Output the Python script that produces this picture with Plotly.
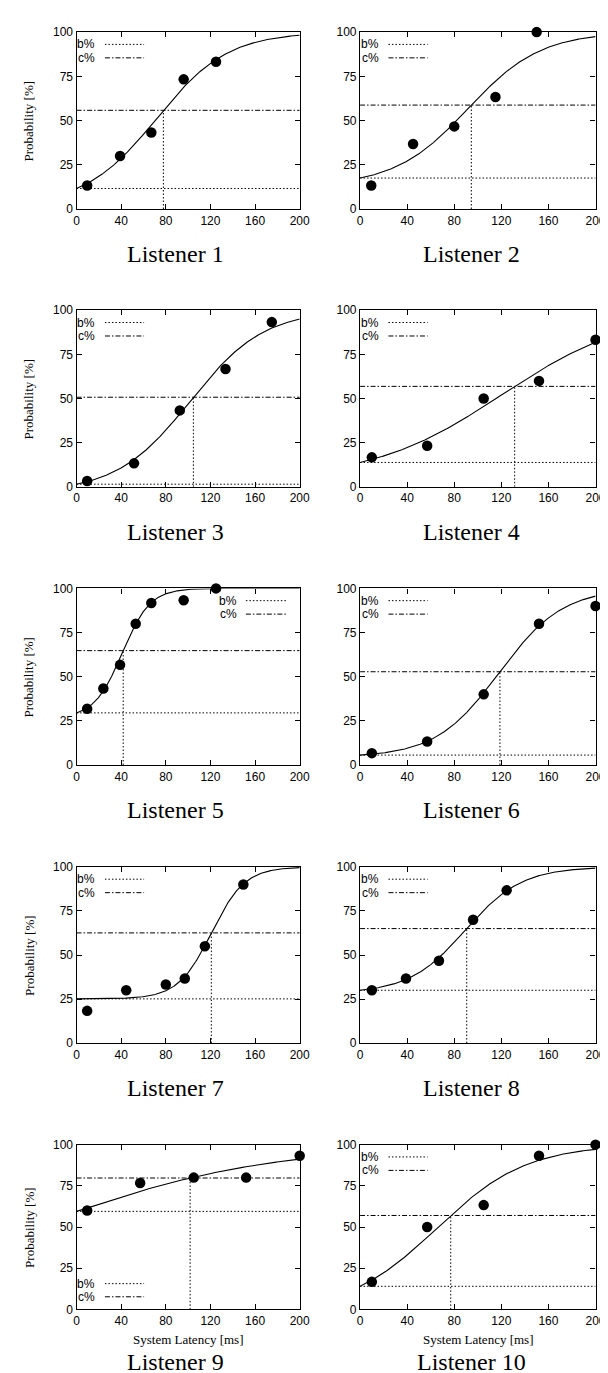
import numpy as np
import plotly.graph_objects as go

# ---------------- data ----------------
lat_L1 = [9.5, 39, 67, 96, 125]
prob_L1 = [13.3, 30.0, 43.3, 73.3, 83.3]
lat_L2 = [9.5, 45, 80, 115, 150]
prob_L2 = [13.3, 36.7, 46.7, 63.3, 100.0]
lat_L3 = [9.5, 51.5, 92.5, 133.5, 175]
prob_L3 = [3.3, 13.3, 43.3, 66.7, 93.3]
lat_L4 = [10, 57, 105, 152, 200]
prob_L4 = [16.7, 23.3, 50.0, 60.0, 83.3]
lat_L5 = [9.5, 24, 39, 53, 67, 96, 125]
prob_L5 = [31.8, 43.3, 56.7, 80.0, 91.7, 93.3, 100.0]
lat_L6 = [10, 57, 105, 152, 200]
prob_L6 = [6.7, 13.3, 40.0, 80.0, 90.0]
lat_L7 = [9.5, 44.5, 80, 97, 115, 149.5]
prob_L7 = [18.3, 30.0, 33.3, 36.7, 55.0, 90.0]
lat_L8 = [10, 39, 67, 96, 124.5]
prob_L8 = [30.0, 36.7, 46.7, 70.0, 86.7]
lat_L9 = [9.5, 57, 105, 152, 200]
prob_L9 = [60.0, 76.7, 80.0, 80.0, 93.3]
lat_L10 = [10, 57, 105, 152, 200]
prob_L10 = [16.7, 50.0, 63.3, 93.3, 100.0]

# fitted psychometric curve parameters
baseline_b = [11.6, 17.5, 1.5, 13.8, 29.5, 5.6, 25.1, 30.0, 59.5, 14.0]      # b% (curve at 0 ms)
threshold_t = [77.8, 94.5, 104.7, 131.3, 41.8, 118.8, 120.8, 90.6, 101.8, 77.0]  # latency at c%
slope_s = [32, 31, 33, 55, 12.5, 27, 15, 24, 100, 38]

panel_titles = ["Listener %d" % i for i in range(1, 11)]
x_ticks = [0, 40, 80, 120, 160, 200]
y_ticks = [0, 25, 50, 75, 100]
x_range = [0, 200]
y_range = [0, 100]

latencies = [lat_L1, lat_L2, lat_L3, lat_L4, lat_L5, lat_L6, lat_L7, lat_L8, lat_L9, lat_L10]
probs = [prob_L1, prob_L2, prob_L3, prob_L4, prob_L5, prob_L6, prob_L7, prob_L8, prob_L9, prob_L10]

# ---------------- model ----------------
def q(x, m, s):
    return 1.0 / (1.0 + np.exp((np.asarray(x, float) - m) / s))

def solve_m(t, s):
    lo, hi = -3000.0, 3000.0
    for _ in range(200):
        m = 0.5 * (lo + hi)
        g = 1.0 - q(t, m, s) / q(0.0, m, s)
        if g > 0.5:
            lo = m
        else:
            hi = m
    return 0.5 * (lo + hi)

def curve(x, b, t, s):
    m = solve_m(t, s)
    return b + (100.0 - b) * (1.0 - q(x, m, s) / q(0.0, m, s))

# ---------------- layout geometry (pixels) ----------------
W, H = 608, 1373
cols_px = [(67.0, 295.0), (356.7, 597.3)]
rows_px = [(17.3, 196.0), (298.3, 476.7), (579.3, 757.7), (860.7, 1038.7), (1141.3, 1307.7)]
title_x_px = [168.0, 471.0]
title_y_px = [241.7, 522.7, 803.5, 1084.5, 1361.0]

SANS = "Liberation Sans, Arial, sans-serif"
SERIF = "Liberation Serif, Times New Roman, serif"
DOT = "1.5px,2px"
DASHDOT = "5px,2px,1.5px,2px"

fig = go.Figure()
layout = dict(
    width=W, height=H, margin=dict(l=0, r=0, t=0, b=0),
    paper_bgcolor="white", plot_bgcolor="white", showlegend=False,
    hovermode=False,
)
annotations = []
shapes = []

for i in range(10):
    r, c = divmod(i, 2)
    n = "" if i == 0 else str(i + 1)
    xa, ya = "x" + n, "y" + n
    x0p, x1p = cols_px[c]
    y0p, y1p = rows_px[r]
    axw, axh = x1p - x0p, y1p - y0p

    common = dict(showline=True, linecolor="black", linewidth=1.3, mirror="ticks",
                  ticks="inside", ticklen=5, tickwidth=1.2, tickcolor="black",
                  showgrid=False, zeroline=False, ticklabeloverflow="allow",
                  tickfont=dict(family=SANS, size=12, color="black"))
    layout["xaxis" + n] = dict(common, domain=[x0p / W, x1p / W], range=x_range,
                               tickvals=x_ticks, ticktext=[str(v) for v in x_ticks],
                               anchor=ya)
    layout["yaxis" + n] = dict(common, domain=[1 - y1p / H, 1 - y0p / H], range=y_range,
                               tickvals=y_ticks, ticktext=[str(v) for v in y_ticks],
                               anchor=xa)

    b, t, s = baseline_b[i], threshold_t[i], slope_s[i]
    cpct = (100.0 + b) / 2.0

    # b% line (dotted)
    fig.add_trace(go.Scatter(x=x_range, y=[b, b], mode="lines", xaxis=xa, yaxis=ya,
                             line=dict(color="black", width=1, dash=DOT)))
    # c% line (dash-dot)
    fig.add_trace(go.Scatter(x=x_range, y=[cpct, cpct], mode="lines", xaxis=xa, yaxis=ya,
                             line=dict(color="black", width=1, dash=DASHDOT)))
    # threshold vertical line
    fig.add_trace(go.Scatter(x=[t, t], y=[y_range[0], cpct], mode="lines", xaxis=xa, yaxis=ya,
                             line=dict(color="black", width=1, dash=DOT)))
    # fitted curve
    xg = np.linspace(x_range[0], x_range[1], 401)
    fig.add_trace(go.Scatter(x=xg, y=curve(xg, b, t, s), mode="lines", xaxis=xa, yaxis=ya,
                             line=dict(color="black", width=1.1)))
    # measured points
    fig.add_trace(go.Scatter(x=latencies[i], y=probs[i], mode="markers", xaxis=xa, yaxis=ya,
                             cliponaxis=False,
                             marker=dict(color="black", size=10.5)))

    # legend (gnuplot style: label then line sample)
    if i == 4:      # top-right
        text_r = 1 - 61.7 / axw
        ln0, ln1 = 1 - 55.0 / axw, 1 - 14.0 / axw
        rows_y = [1 - 12.4 / axh, 1 - 26.0 / axh]
    elif i == 8:    # bottom-left
        text_r = 21.3 / axw
        ln0, ln1 = 29.0 / axw, 69.0 / axw
        rows_y = [26.0 / axh, 12.7 / axh]
    else:           # top-left
        text_r = 21.3 / axw
        ln0, ln1 = 29.0 / axw, 69.0 / axw
        rows_y = [1 - 12.4 / axh, 1 - 26.0 / axh]
    xd = xa + " domain"
    yd = ya + " domain"
    for lab, yy, dsh in zip(["b%", "c%"], rows_y, [DOT, DASHDOT]):
        annotations.append(dict(text=lab, xref=xd, yref=yd, x=text_r, y=yy,
                                xanchor="right", yanchor="middle", showarrow=False,
                                font=dict(family=SANS, size=12, color="black")))
        shapes.append(dict(type="line", xref=xd, yref=yd, x0=ln0, x1=ln1, y0=yy, y1=yy,
                           line=dict(color="black", width=1, dash=dsh)))

    # panel caption
    annotations.append(dict(text=panel_titles[i], xref="paper", yref="paper",
                            x=title_x_px[c] / W, y=1 - title_y_px[r] / H,
                            xanchor="center", yanchor="middle", showarrow=False,
                            borderpad=0,
                            font=dict(family=SERIF, size=24, color="black")))
    # y-axis title on left column
    if c == 0:
        annotations.append(dict(text="Probability [%]", xref="paper", yref="paper",
                                x=18.3 / W, y=1 - (y0p + y1p) / 2 / H, textangle=-90,
                                xanchor="center", yanchor="middle", showarrow=False,
                                font=dict(family=SERIF, size=13, color="black")))
    # x-axis title on bottom row
    if r == 4:
        annotations.append(dict(text="System Latency [ms]", xref="paper", yref="paper",
                                x=(x0p + x1p) / 2 / W, y=1 - 1337.7 / H,
                                xanchor="center", yanchor="middle", showarrow=False,
                                font=dict(family=SERIF, size=13, color="black")))

layout["annotations"] = annotations
layout["shapes"] = shapes
fig.update_layout(**layout)
fig.write_html("out.html")
